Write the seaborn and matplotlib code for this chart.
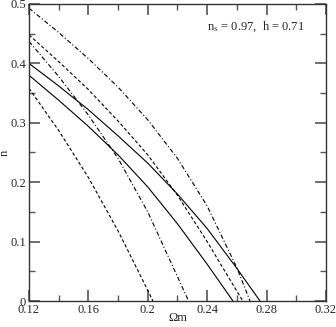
import numpy as np
import pandas as pd
import seaborn as sns
from matplotlib import pyplot as plt
from matplotlib.ticker import MultipleLocator

# curves (Omega_m, n)
om_solid1 = [0.12, 0.14, 0.16, 0.18, 0.20, 0.22, 0.24, 0.26, 0.2756]
n_solid1 = [0.400, 0.362, 0.322, 0.278, 0.232, 0.180, 0.122, 0.055, 0.0]
om_solid2 = [0.12, 0.14, 0.16, 0.18, 0.20, 0.22, 0.24, 0.2574]
n_solid2 = [0.380, 0.338, 0.294, 0.246, 0.192, 0.130, 0.062, 0.0]
om_dash1 = [0.12, 0.14, 0.16, 0.18, 0.20, 0.22, 0.24, 0.264]
n_dash1 = [0.448, 0.403, 0.356, 0.303, 0.246, 0.178, 0.100, 0.0]
om_dash2 = [0.12, 0.14, 0.16, 0.18, 0.20, 0.2035]
n_dash2 = [0.358, 0.287, 0.208, 0.118, 0.018, 0.0]
om_dd1 = [0.12, 0.14, 0.16, 0.18, 0.20, 0.22, 0.24, 0.26, 0.2689]
n_dd1 = [0.493, 0.452, 0.408, 0.360, 0.305, 0.240, 0.160, 0.056, 0.0]
om_dd2 = [0.12, 0.14, 0.16, 0.18, 0.20, 0.2275]
n_dd2 = [0.437, 0.378, 0.313, 0.240, 0.150, 0.0]

curves = [
    (om_solid1, n_solid1, "-"),
    (om_solid2, n_solid2, "-"),
    (om_dash1, n_dash1, (0, (3, 2))),
    (om_dash2, n_dash2, (0, (3, 2))),
    (om_dd1, n_dd1, (0, (4, 2, 1, 2))),
    (om_dd2, n_dd2, (0, (4, 2, 1, 2))),
]

sns.set_style("ticks")
plt.rcParams['font.family'] = ['Liberation Serif', 'DejaVu Serif']
plt.rcParams['mathtext.fontset'] = 'stix'

fig = plt.figure(figsize=(3.36, 3.27), dpi=100)
ax = fig.add_axes([0.0863, 0.0795, 0.8837, 0.9083])

for om, n, ls in curves:
    df = pd.DataFrame({"om": om, "n": n})
    sns.lineplot(data=df, x="om", y="n", ax=ax, color="black", linewidth=0.8,
                 linestyle=ls, sort=False, estimator=None)

ax.set_xlim(0.12, 0.32)
ax.set_ylim(0, 0.5)
ax.xaxis.set_minor_locator(MultipleLocator(0.02))
ax.yaxis.set_minor_locator(MultipleLocator(0.05))
ax.set_xticks([0.12, 0.16, 0.2, 0.24, 0.28, 0.32])
ax.set_xticklabels(["0.12", "0.16", "0.2", "0.24", "0.28", "0.32"])
ax.set_yticks([0, 0.1, 0.2, 0.3, 0.4, 0.5])
ax.set_yticklabels(["0", "0.1", "0.2", "0.3", "0.4", "0.5"])
ax.tick_params(which="both", direction="in", top=True, right=True,
               labelsize=9, color="#555555", pad=2)
ax.tick_params(which="major", length=8, width=1.2)
ax.tick_params(which="minor", length=4, width=1)
for s in ax.spines.values():
    s.set_linewidth(1.0)
    s.set_color("#333333")

ax.set_xlabel("Ωm", fontsize=9)
ax.xaxis.set_label_coords(0.5, -0.037)
ax.set_ylabel("n", fontsize=9)
ax.yaxis.set_label_coords(-0.062, 0.5)
ax.text(0.60, 0.925, r"n$_{\rm s}$ = 0.97,  h = 0.71", transform=ax.transAxes,
        fontsize=9, va="center")

fig.savefig("out.png", dpi=100)
